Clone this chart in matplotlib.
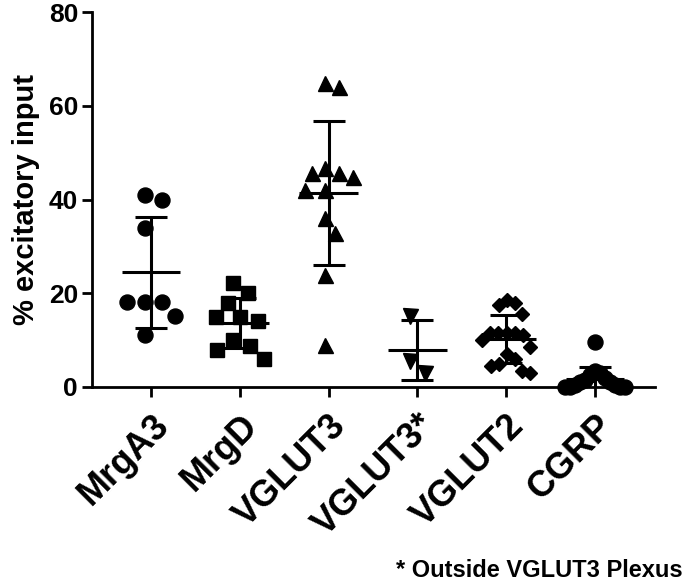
import numpy as np
import matplotlib
matplotlib.use('Agg')
import matplotlib.pyplot as plt

plt.rcParams['font.family'] = ['Liberation Sans', 'DejaVu Sans']
plt.rcParams['font.weight'] = 'bold'

# categories and values (% excitatory input)
groups = ['MrgA3', 'MrgD', 'VGLUT3', 'VGLUT3*', 'VGLUT2', 'CGRP']
mrga3 = [41.0, 40.0, 34.0, 18.2, 18.2, 18.2, 15.2, 11.0]
mrgd = [22.1, 20.0, 18.0, 14.9, 14.9, 14.1, 10.0, 8.7, 8.0, 6.0]
vglut3 = [64.8, 64.1, 46.7, 45.6, 45.6, 44.9, 42.0, 42.0, 36.0, 32.8, 23.9, 9.0]
vglut3_out = [15.2, 5.6, 2.9]
vglut2 = [18.5, 18.0, 17.5, 15.5, 11.5, 11.5, 11.5, 11.5, 11.0, 10.0,
          8.5, 7.0, 6.0, 5.0, 4.5, 3.5, 3.0]
cgrp = [9.7, 3.5, 3.0, 2.5, 2.0, 1.5, 1.0, 1.0, 0.5, 0.5, 0.0, 0.0, 0.0, 0.0]
all_data = [mrga3, mrgd, vglut3, vglut3_out, vglut2, cgrp]

markers = ['o', 's', '^', 'v', 'D', 'o']
msizes = [10.8, 9.6, 10.8, 10.8, 7.0, 10.8]

# figure geometry (pixels)
W, H = 685, 581
x_px = 89.0          # pixels per category
y_px = 375.0 / 80.0  # pixels per % unit


def swarm(vals, d, max_half=26.0):
    # simple beeswarm, squeezed when it gets wider than max_half pixels
    vals = np.asarray(vals, dtype=float)
    ys = vals * y_px
    offs = np.zeros(len(vals))
    placed = []
    for i in np.argsort(-vals, kind='stable'):
        y = ys[i]
        cands = [0.0]
        for px, py in placed:
            dy = abs(py - y)
            if dy < d:
                dx = np.sqrt(d * d - dy * dy)
                cands += [px + dx, px - dx]
        cands.sort(key=abs)
        for c in cands:
            if all((c - px) ** 2 + (y - py) ** 2 >= d * d - 1e-6 for px, py in placed):
                break
        placed.append((c, y))
        offs[i] = c
    offs = offs - (offs.max() + offs.min()) / 2
    w = np.abs(offs).max()
    if w > max_half:
        offs = offs * max_half / w
    return offs / x_px


fig = plt.figure(figsize=(W / 100, H / 100), dpi=100)
ax = fig.add_axes([92 / W, 1 - 387 / H, (655 - 92) / W, 375 / H])

for i, vals in enumerate(all_data):
    vals = np.array(vals)
    offs = swarm(vals, 20.0, 30.0 if i == 5 else 24.0)
    ax.plot(i + offs, vals, linestyle='none', marker=markers[i], ms=msizes[i],
            color='black', clip_on=False, zorder=4)
    m = vals.mean()
    sd = vals.std(ddof=1)
    ax.errorbar(i, m, yerr=sd, fmt='none', ecolor='black', elinewidth=2.2,
                capsize=11.5, capthick=2.2, zorder=3)
    ax.hlines(m, i - 0.33, i + 0.33, color='black', lw=2.2, zorder=3)

ax.set_xlim(-59 / x_px, 5 + 60 / x_px)
ax.set_ylim(0, 80)
ax.set_yticks([0, 20, 40, 60, 80])
ax.set_xticks(range(len(groups)))
ax.set_xticklabels(groups, rotation=45, ha='right', rotation_mode='anchor',
                   fontsize=26, fontweight='bold')
ax.tick_params(axis='y', labelsize=19, width=2, length=7, pad=3)
ax.tick_params(axis='x', width=2, length=7, pad=8)
for lab in ax.get_yticklabels():
    lab.set_fontweight('bold')

ax.spines['top'].set_visible(False)
ax.spines['right'].set_visible(False)
ax.spines['left'].set_linewidth(2)
ax.spines['bottom'].set_linewidth(2)

ax.set_ylabel('% excitatory input', fontsize=21, fontweight='bold', labelpad=6)

fig.text(683 / W, 1 - 577 / H, '* Outside VGLUT3 Plexus', ha='right', va='baseline',
         fontsize=17, fontweight='bold')

fig.savefig('out.png', dpi=100)
